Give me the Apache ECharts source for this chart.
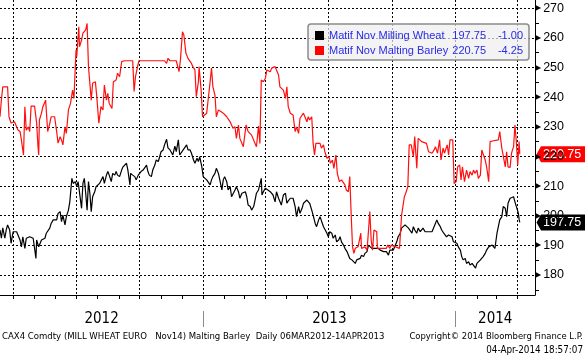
<!DOCTYPE html>
<html><head><meta charset="utf-8">
<script src="https://cdn.jsdelivr.net/npm/echarts@6/dist/echarts.min.js"></script>
<style>html,body{margin:0;padding:0;background:#fff}#c{width:585px;height:356px}</style>
</head><body><div id="c"></div>
<script>
const wheatName = 'Matif Nov Milling Wheat';
const barleyName = 'Matif Nov Malting Barley';

const barleyDates = ['2012-03-13','2012-03-15','2012-03-17','2012-03-24','2012-03-26','2012-03-29','2012-04-03','2012-04-06','2012-04-08','2012-04-11',
'2012-04-13','2012-04-16','2012-04-18','2012-04-20','2012-04-23','2012-04-25','2012-04-27','2012-05-02','2012-05-05','2012-05-07',
'2012-05-08','2012-05-09','2012-05-12','2012-05-14','2012-05-18','2012-05-21','2012-05-24','2012-05-26','2012-05-31','2012-06-03',
'2012-06-05','2012-06-08','2012-06-10','2012-06-12','2012-06-15','2012-06-17','2012-06-20','2012-06-23','2012-06-26','2012-06-28',
'2012-07-01','2012-07-02','2012-07-05','2012-07-06','2012-07-09','2012-07-11','2012-07-13','2012-07-15','2012-07-17','2012-07-19',
'2012-07-23','2012-07-25','2012-07-29','2012-07-31','2012-08-03','2012-08-06','2012-08-09','2012-08-11','2012-08-14','2012-08-16',
'2012-08-18','2012-08-22','2012-08-24','2012-08-28','2012-08-30','2012-09-02','2012-09-05','2012-09-09','2012-09-21','2012-09-23',
'2012-09-25','2012-09-28','2012-09-30','2012-11-06','2012-11-09','2012-11-11','2012-11-14','2012-11-23','2012-11-27','2012-11-29',
'2012-12-02','2012-12-04','2012-12-07','2012-12-10','2012-12-15','2012-12-17','2012-12-20','2012-12-22','2012-12-25','2012-12-26',
'2012-12-29','2012-12-31','2013-01-02','2013-01-06','2013-01-08','2013-01-11','2013-01-13','2013-01-15','2013-01-18','2013-01-20',
'2013-01-23','2013-01-27','2013-01-30','2013-02-04','2013-02-09','2013-02-13','2013-02-16','2013-02-18','2013-02-21','2013-02-23',
'2013-02-28','2013-03-04','2013-03-07','2013-03-12','2013-03-17','2013-03-19','2013-03-22','2013-03-24','2013-03-26','2013-03-29',
'2013-04-01','2013-04-03','2013-04-08','2013-04-10','2013-04-12','2013-04-15','2013-04-17','2013-04-20','2013-04-22','2013-04-27',
'2013-04-30','2013-05-02','2013-05-04','2013-05-07','2013-05-09','2013-05-11','2013-05-14','2013-05-16','2013-05-19','2013-05-21',
'2013-05-26','2013-05-28','2013-05-31','2013-06-02','2013-06-04','2013-06-07','2013-06-09','2013-06-11','2013-06-13','2013-06-19',
'2013-06-21','2013-06-24','2013-06-26','2013-06-29','2013-07-02','2013-07-04','2013-07-07','2013-07-09','2013-07-12','2013-07-14',
'2013-07-17','2013-07-20','2013-07-22','2013-07-25','2013-07-27','2013-07-30','2013-08-01','2013-08-03','2013-08-05','2013-08-07',
'2013-08-09','2013-08-11','2013-08-13','2013-08-17','2013-08-18','2013-08-23','2013-08-26','2013-08-28','2013-08-30','2013-09-01',
'2013-09-03','2013-09-05','2013-09-09','2013-09-10','2013-09-23','2013-09-25','2013-09-28','2013-09-30','2013-10-12','2013-10-15',
'2013-10-17','2013-10-19','2013-10-21','2013-10-24','2013-10-26','2013-10-29','2013-11-01','2013-11-03','2013-11-06','2013-11-08',
'2013-11-13','2013-11-20','2013-11-23','2013-11-28','2013-12-01','2013-12-03','2013-12-06','2013-12-09','2013-12-11','2013-12-14',
'2013-12-16','2013-12-20','2013-12-22','2013-12-24','2013-12-26','2013-12-28','2013-12-30','2014-01-02','2014-01-04','2014-01-07',
'2014-01-09','2014-01-11','2014-01-14','2014-01-17','2014-01-20','2014-01-22','2014-01-25','2014-01-27','2014-01-29','2014-02-01',
'2014-02-03','2014-02-06','2014-02-08','2014-02-10','2014-02-13','2014-02-15','2014-02-18','2014-02-20','2014-02-25','2014-03-04',
'2014-03-06','2014-03-09','2014-03-11','2014-03-14','2014-03-16','2014-03-18','2014-03-21','2014-03-23','2014-03-26','2014-03-28',
'2014-03-30','2014-04-01','2014-04-03','2014-04-04'];
const barleyValues = [233.4,239.0,243.5,243.5,233.4,231.3,231.7,230.0,228.9,228.4,
225.5,220.5,236.8,228.9,230.0,228.4,237.0,237.0,231.3,223.3,
220.5,232.3,234.6,236.8,239.0,228.4,231.2,233.4,233.4,228.4,
224.5,226.7,225.5,223.9,230.0,227.8,235.7,237.9,242.4,239.6,
255.9,253.7,263.8,257.0,259.3,261.6,262.1,262.7,264.9,250.3,
239.0,244.7,245.2,240.2,231.2,236.8,235.7,244.1,239.0,241.3,
237.9,236.2,245.2,245.8,248.1,246.9,252.0,252.3,252.3,241.9,
246.9,250.3,252.3,252.3,251.4,253.1,252.3,252.3,248.6,252.5,
262.1,261.0,254.8,253.1,251.4,250.3,249.2,240.2,245.2,250.3,
242.4,233.4,234.0,234.6,234.6,245.2,249.8,243.5,240.7,233.4,
235.7,235.1,234.6,233.4,231.7,229.5,230.0,226.1,230.6,226.1,
223.3,230.6,228.4,227.2,224.4,223.3,230.3,224.4,245.8,245.2,
246.4,249.2,248.6,249.8,249.2,250.3,249.2,247.5,243.5,242.4,
239.6,243.5,236.8,234.6,235.1,234.0,228.4,230.0,227.8,232.9,
234.6,235.1,231.7,233.4,232.3,233.4,224.4,220.5,224.4,224.4,
222.8,223.9,221.6,219.4,219.9,217.7,218.8,216.0,220.5,214.3,
211.5,212.1,211.5,210.4,208.7,208.1,213.2,200.8,189.5,187.3,
189.0,188.4,189.5,194.1,189.0,189.5,188.4,194.6,201.4,191.8,
188.4,195.2,194.6,189.0,189.0,190.1,189.0,190.1,189.0,200.2,
200.8,206.4,207.6,209.8,223.9,223.9,219.9,226.7,216.0,226.1,
225.0,224.4,221.6,221.1,222.2,223.3,221.1,225.6,218.8,222.8,
221.1,223.9,220.5,225.6,225.0,225.6,210.9,211.5,216.5,217.1,
212.1,216.5,211.5,215.4,212.6,214.9,213.7,215.4,214.3,215.4,
212.6,213.7,222.2,222.8,218.8,216.5,211.5,225.0,225.3,225.6,
228.4,222.8,222.2,216.5,221.6,216.5,216.3,221.1,223.3,230.6,
225.0,217.1,225.0,220.75];

const wheatDates = ['2012-03-13','2012-03-15','2012-03-17','2012-03-20','2012-03-22','2012-03-24','2012-03-27','2012-03-29','2012-04-01','2012-04-06',
'2012-04-08','2012-04-11','2012-04-13','2012-04-15','2012-04-18','2012-04-20','2012-04-25','2012-04-30','2012-05-02','2012-05-04',
'2012-05-05','2012-05-08','2012-05-09','2012-05-12','2012-05-14','2012-05-17','2012-05-19','2012-05-24','2012-05-26','2012-05-29',
'2012-05-31','2012-06-03','2012-06-05','2012-06-08','2012-06-10','2012-06-12','2012-06-15','2012-06-17','2012-06-20','2012-06-22',
'2012-06-25','2012-06-27','2012-06-30','2012-07-02','2012-07-04','2012-07-06','2012-07-09','2012-07-11','2012-07-13','2012-07-15',
'2012-07-17','2012-07-19','2012-07-21','2012-07-23','2012-07-25','2012-07-28','2012-07-30','2012-08-04','2012-08-09','2012-08-11',
'2012-08-14','2012-08-16','2012-08-18','2012-08-21','2012-08-23','2012-08-26','2012-08-28','2012-08-30','2012-09-02','2012-09-05',
'2012-09-07','2012-09-09','2012-09-12','2012-09-14','2012-09-17','2012-09-18','2012-09-21','2012-09-24','2012-09-26','2012-09-29',
'2012-10-01','2012-10-03','2012-10-06','2012-10-08','2012-10-11','2012-10-13','2012-10-15','2012-10-18','2012-10-20','2012-10-23',
'2012-10-25','2012-10-28','2012-10-30','2012-11-01','2012-11-04','2012-11-06','2012-11-09','2012-11-11','2012-11-14','2012-11-18',
'2012-11-21','2012-11-23','2012-11-26','2012-11-28','2012-12-03','2012-12-08','2012-12-10','2012-12-13','2012-12-15','2012-12-18',
'2012-12-20','2012-12-23','2012-12-25','2012-12-27','2012-12-30','2013-01-01','2013-01-03','2013-01-06','2013-01-08','2013-01-11',
'2013-01-13','2013-01-15','2013-01-18','2013-01-20','2013-01-23','2013-01-25','2013-01-28','2013-01-30','2013-02-01','2013-02-04',
'2013-02-06','2013-02-09','2013-02-11','2013-02-13','2013-02-16','2013-02-18','2013-02-21','2013-02-23','2013-02-26','2013-02-28',
'2013-03-03','2013-03-05','2013-03-07','2013-03-10','2013-03-12','2013-03-15','2013-03-17','2013-03-19','2013-03-22','2013-03-24',
'2013-03-26','2013-03-27','2013-03-29','2013-04-01','2013-04-03','2013-04-08','2013-04-10','2013-04-12','2013-04-15','2013-04-17',
'2013-04-20','2013-04-22','2013-04-24','2013-04-27','2013-04-30','2013-05-02','2013-05-04','2013-05-07','2013-05-09','2013-05-11',
'2013-05-14','2013-05-16','2013-05-19','2013-05-21','2013-05-24','2013-05-26','2013-05-28','2013-05-31','2013-06-02','2013-06-04',
'2013-06-07','2013-06-09','2013-06-12','2013-06-14','2013-06-17','2013-06-19','2013-06-21','2013-06-24','2013-06-26','2013-06-29',
'2013-07-01','2013-07-03','2013-07-06','2013-07-08','2013-07-11','2013-07-13','2013-07-16','2013-07-18','2013-07-20','2013-07-23',
'2013-07-25','2013-07-28','2013-07-30','2013-08-01','2013-08-04','2013-08-06','2013-08-09','2013-08-11','2013-08-13','2013-08-16',
'2013-08-18','2013-08-21','2013-08-23','2013-08-26','2013-08-28','2013-08-30','2013-09-02','2013-09-04','2013-09-07','2013-09-09',
'2013-09-11','2013-09-14','2013-09-16','2013-09-19','2013-09-21','2013-09-23','2013-09-26','2013-09-28','2013-09-30','2013-10-03',
'2013-10-05','2013-10-08','2013-10-10','2013-10-13','2013-10-15','2013-10-17','2013-10-20','2013-10-22','2013-10-25','2013-10-27',
'2013-10-30','2013-11-01','2013-11-03','2013-11-06','2013-11-08','2013-11-11','2013-11-13','2013-11-15','2013-11-18','2013-11-20',
'2013-11-23','2013-11-25','2013-11-28','2013-11-30','2013-12-02','2013-12-05','2013-12-07','2013-12-10','2013-12-12','2013-12-15',
'2013-12-17','2013-12-19','2013-12-22','2013-12-24','2013-12-27','2013-12-29','2013-12-31','2014-01-03','2014-01-05','2014-01-08',
'2014-01-10','2014-01-12','2014-01-15','2014-01-17','2014-01-20','2014-01-22','2014-01-25','2014-01-27','2014-01-30','2014-02-01',
'2014-02-03','2014-02-06','2014-02-08','2014-02-10','2014-02-13','2014-02-15','2014-02-18','2014-02-20','2014-02-23','2014-02-25',
'2014-02-27','2014-03-02','2014-03-04','2014-03-06','2014-03-09','2014-03-11','2014-03-14','2014-03-16','2014-03-18','2014-03-21',
'2014-03-23','2014-03-26','2014-03-28','2014-03-30','2014-04-02','2014-04-03','2014-04-04'];
const wheatValues = [195.2,192.4,195.9,192.4,195.2,196.9,195.2,190.7,194.6,194.6,
194.1,191.8,189.5,192.9,189.0,192.4,192.9,192.4,192.9,185.6,
191.8,189.5,190.1,191.8,192.4,192.4,194.1,195.8,197.4,198.6,
198.0,198.6,200.8,201.4,198.0,200.2,196.9,199.7,201.9,204.7,
212.6,210.9,211.5,209.8,211.5,210.9,202.5,210.9,212.6,207.6,
201.9,211.5,207.6,201.4,206.4,208.1,209.8,210.9,213.2,210.9,
213.7,214.9,213.7,211.5,214.3,213.7,214.9,213.7,213.2,215.4,
216.5,217.1,217.7,215.4,210.4,214.3,213.7,213.2,212.1,213.7,
214.3,214.9,215.4,216.0,217.1,214.9,213.7,213.2,215.4,217.1,
218.8,218.3,219.9,221.6,222.2,223.9,225.8,222.9,222.2,220.5,
223.5,221.6,225.6,220.5,222.2,223.9,222.2,222.2,221.1,218.8,
217.7,219.4,218.3,219.9,216.5,213.2,213.7,212.1,212.6,210.4,
212.1,213.2,214.3,216.0,214.3,212.1,208.7,212.1,213.2,211.5,
208.7,209.8,206.4,207.0,208.7,209.8,208.1,205.9,207.6,208.1,
208.1,206.4,203.6,203.1,201.9,203.1,205.3,207.6,208.7,208.1,
212.6,207.0,208.1,209.3,208.7,208.1,208.7,207.0,204.7,208.1,
205.9,205.3,203.6,207.0,207.6,204.2,205.0,205.9,206.4,205.9,
203.1,199.7,203.1,200.8,202.5,204.2,204.7,205.3,205.9,204.2,
201.9,200.2,197.4,196.3,198.6,199.7,200.2,196.3,195.8,194.1,
192.9,194.6,194.1,192.4,193.5,191.2,191.8,192.9,191.2,190.1,
189.0,187.9,187.3,185.6,185.1,184.5,183.9,185.1,184.5,185.6,
186.7,186.2,187.3,187.9,190.1,189.5,189.0,189.5,189.0,188.4,
189.0,188.4,187.9,187.9,187.3,187.9,186.7,188.4,189.0,188.4,
189.5,191.2,192.9,194.1,195.8,195.2,196.9,196.3,195.8,196.3,
194.1,196.3,195.2,194.1,195.8,194.6,195.2,195.8,194.6,195.2,
194.6,194.1,194.6,195.2,196.9,198.6,197.4,196.3,195.2,194.1,
193.5,192.9,193.5,194.1,192.9,191.2,191.8,190.7,189.5,188.4,
186.2,185.1,185.6,183.9,184.5,183.4,183.9,183.4,182.3,183.9,
184.5,185.1,185.6,186.2,187.3,188.4,189.5,190.1,190.1,189.5,
189.0,194.1,196.3,198.6,199.7,203.1,202.5,199.7,204.2,205.9,
205.3,206.4,204.7,204.2,200.8,198.75,197.75];

const lastChanges = [-1.00, -4.25];            // wheat, barley (change on the day)
const yMajorValues = [180,190,200,210,220,230,240,250,260,270];
const yMinorValues = [175,185,195,205,215,225,235,245,255,265];
const yearLabels = [2012, 2013, 2014];
const footerLeft = 'CAX4 Comdty (MILL WHEAT EURO   Nov14) Malting Barley  Daily 06MAR2012-14APR2013';
const footerRight1 = 'Copyright\u00A9 2014 Bloomberg Finance L.P.';
const footerRight2 = '04-Apr-2014 18:57:07';

function ts(s) { const p = s.split('-').map(Number); return +new Date(p[0], p[1] - 1, p[2]); }

const yMin = 173.25, yMax = 272.8;
const xMin = ts('2012-03-13'), xMax = ts('2014-04-26');

const monthTicks = [];
for (let y = 2012; y <= 2014; y++) for (let m = 0; m < 12; m++) {
  const t = +new Date(y, m, 1);
  if (t >= xMin && t <= xMax) monthTicks.push(t);
}
const quarterTicks = monthTicks.filter(t => new Date(t).getMonth() % 3 === 0);
const yearStarts = yearLabels.slice(1).map(y => +new Date(y, 0, 1));
const yearCenters = yearLabels.map(y => {
  const s = Math.max(xMin, +new Date(y, 0, 1));
  const e = Math.min(xMax, +new Date(y + 1, 0, 1));
  return (s + e) / 2;
});

const narrow = "'Liberation Sans Narrow', 'DejaVu Sans Condensed', 'Liberation Sans', sans-serif";
const dotted = { color: '#000', width: 1, type: [2, 2] };
const chart = echarts.init(document.getElementById('c'), null, { renderer: 'canvas', width: 585, height: 356 });

const lastWheat = wheatValues[wheatValues.length - 1];
const lastBarley = barleyValues[barleyValues.length - 1];

const xBase = { type: 'value', min: xMin, max: xMax, scale: true };

chart.setOption({
  animation: false,
  backgroundColor: '#fff',
  grid: { left: 0, right: 50, top: 0, bottom: 61, containLabel: false },
  xAxis: [
    Object.assign({}, xBase, { position: 'bottom',
      axisLine: { onZero: false, lineStyle: { color: '#000', width: 1 } },
      axisTick: { show: true, customValues: monthTicks, length: 4, lineStyle: { color: '#000' } },
      axisLabel: { show: false }, splitLine: { show: false } }),
    Object.assign({}, xBase, { position: 'top',
      axisLine: { show: false, onZero: false },
      axisTick: { show: false, customValues: quarterTicks },
      axisLabel: { show: false }, splitLine: { show: true, lineStyle: dotted } }),
    Object.assign({}, xBase, { position: 'bottom', offset: 16,
      axisLine: { show: false, onZero: false },
      axisTick: { show: true, customValues: yearStarts, length: 16, lineStyle: { color: '#8a8a8a', width: 1 } },
      axisLabel: { show: true, customValues: yearCenters, margin: 1,
        formatter: v => String(new Date(v).getFullYear()),
        fontSize: 15, fontFamily: narrow, color: '#000' },
      splitLine: { show: false } })
  ],
  yAxis: [
    { type: 'value', position: 'right', min: yMin, max: yMax,
      axisLine: { show: true, onZero: false, lineStyle: { color: '#000', width: 1 } },
      axisTick: { show: false, customValues: yMajorValues },
      axisLabel: { show: true, customValues: yMajorValues, margin: 0,
        formatter: v => '{a|\u25B6}{b|' + v + '}',
        rich: {
          a: { fontFamily: 'DejaVu Sans', fontSize: 8, color: '#000' },
          b: { fontFamily: "'Liberation Sans', sans-serif", fontSize: 12.5, color: '#000', padding: [0, 0, 0, 2] }
        } },
      splitLine: { show: true, lineStyle: dotted } },
    { type: 'value', position: 'right', min: yMin, max: yMax,
      axisLine: { show: false, onZero: false },
      axisTick: { show: true, customValues: yMinorValues, length: 4, lineStyle: { color: '#000' } },
      axisLabel: { show: false }, splitLine: { show: false } }
  ],
  legend: {
    data: [wheatName, barleyName],
    orient: 'vertical', left: 308, top: 24,
    padding: [5, 6, 3, 7], itemGap: 2, itemWidth: 9, itemHeight: 9, icon: 'rect',
    backgroundColor: 'rgba(238,238,238,0.7)', borderColor: '#8c8c8c', borderWidth: 1.5, borderRadius: 3,
    selectedMode: false,
    formatter: name => {
      const i = name === wheatName ? 0 : 1;
      const v = i === 0 ? lastWheat : lastBarley;
      return '{n|' + name + '}{v|' + v.toFixed(2) + '}{c|' + lastChanges[i].toFixed(2) + '}';
    },
    textStyle: {
      color: '#2a2ae8', fontSize: 11, fontFamily: "'Liberation Sans', sans-serif", lineHeight: 13,
      rich: {
        n: { width: 120, color: '#2a2ae8', fontSize: 11, fontFamily: "'Liberation Sans', sans-serif" },
        v: { width: 37, align: 'right', color: '#2a2ae8', fontSize: 11, fontFamily: "'Liberation Sans', sans-serif" },
        c: { width: 37, align: 'right', color: '#2a2ae8', fontSize: 11, fontFamily: "'Liberation Sans', sans-serif" }
      }
    }
  },
  title: [
    { text: footerLeft, left: 2, top: 332, padding: 0,
      textStyle: { fontSize: 9.5, fontWeight: 'normal', fontFamily: narrow, color: '#000' } },
    { text: footerRight1, right: 2, top: 332, padding: 0,
      textStyle: { fontSize: 9.4, fontWeight: 'normal', fontFamily: narrow, color: '#000' } },
    { text: footerRight2, right: 2, top: 345, padding: 0,
      textStyle: { fontSize: 9.8, fontWeight: 'normal', fontFamily: narrow, color: '#000' } }
  ],
  series: [
    { name: wheatName, type: 'line', xAxisIndex: 0, yAxisIndex: 0, showSymbol: false, symbol: 'none',
      color: '#000', lineStyle: { color: '#000', width: 1.2 },
      data: wheatDates.map((d, i) => [ts(d), wheatValues[i]]) },
    { name: barleyName, type: 'line', xAxisIndex: 0, yAxisIndex: 0, showSymbol: false, symbol: 'none',
      color: '#ff0000', lineStyle: { color: '#ff1010', width: 1.2 },
      data: barleyDates.map((d, i) => [ts(d), barleyValues[i]]) }
  ]
});

function tag(value, color) {
  const y = chart.convertToPixel({ yAxisIndex: 0 }, value);
  const x0 = chart.convertToPixel({ xAxisIndex: 0 }, xMax);
  return { type: 'group', z: 100, children: [
    { type: 'polygon', shape: { points: [[x0 + 1.5, y], [x0 + 6, y - 8], [x0 + 50, y - 8], [x0 + 50, y + 8], [x0 + 6, y + 8]] },
      style: { fill: color } },
    { type: 'text', x: x0 + 8, y: y,
      style: { text: value.toFixed(2), fill: '#fff', font: "12.5px 'Liberation Sans'", textVerticalAlign: 'middle', verticalAlign: 'middle' } }
  ] };
}
chart.setOption({ graphic: [tag(lastBarley, '#ff0000'), tag(lastWheat, '#000')] });
</script>
</body></html>
